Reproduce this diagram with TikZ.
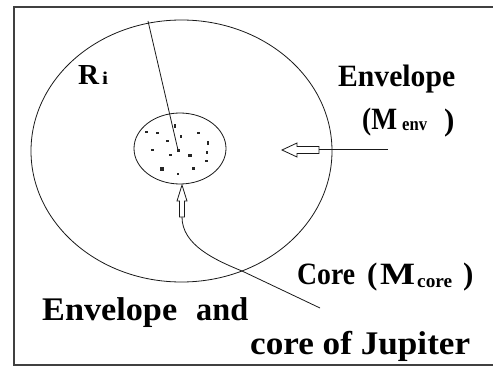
\documentclass[tikz,border=0pt]{standalone}
\usepackage{fontspec}
\setmainfont{Liberation Serif}
\newcommand\fsz[1]{\fontsize{#1}{#1}\selectfont}
\newcommand\fitw[2]{\resizebox{#1}{\height}{#2}}
\begin{document}
\begin{tikzpicture}[x=1pt,y=-1pt,
  ln/.style={line width=0.8pt, draw=black!90},
  frame/.style={line width=2pt, draw=black!75},
  lbl/.style={inner sep=0pt, anchor=base west, font=\bfseries},
  dot/.style={fill=black!85}]
\useasboundingbox (0,0) rectangle (493,369);
\fill[white] (0,0) rectangle (493,369);
\draw[frame] (493,7.5) -- (13.5,7.5) -- (13.5,365) -- (493,365);
% ellipses
\draw[ln] (181.5,151) ellipse [x radius=150.5pt, y radius=131pt];
\draw[ln] (180,148.5) ellipse [x radius=46pt, y radius=35.5pt];
% radius
\coordinate (rtop) at (148,21);
\coordinate (cc) at (178,150);
\draw[ln] (rtop) -- (cc);
% core dots
\foreach \p/\w/\h in {(146,132)/3/2.5,(157,133)/3/2,(175,126)/1.5/4,(181,136)/2.5/3,(198,133)/3/2,(167,141)/3/2,(208,143)/1.5/4,(152,150)/3/2.5,(178,150)/3/3,(170,155)/3/2,(190,155)/4/3,(207,152)/2/3,(206,161)/3/2,(162,169)/4/3.5,(178,174)/2.5/2.5,(193,168)/3/3}
  \fill[dot] \p ++(-\w/2,-\h/2) rectangle ++(\w,\h);
% envelope arrow
\coordinate (ea) at (388,149.5);
\coordinate (eb) at (319,149.5);
\draw[ln] (ea) -- (eb);
\draw[ln] (282,150) -- (297,143) -- (297,146.5) -- (319,146.5) -- (319,153.5) -- (297,153.5) -- (297,157) -- cycle;
% core arrow
\draw[ln] (182,185) -- (187,201) -- (184.5,201) -- (184.5,217) -- (179.5,217) -- (179.5,201) -- (177,201) -- cycle;
\coordinate (cs) at (182,217);
\coordinate (ce) at (320,308);
\draw[ln] (cs) .. controls (182,245) and (215,260) .. (242,271) -- (ce);
% labels
\node[lbl] (ri) at (78,84.5) {\fitw{21pt}{\fsz{29}R}};
\node[lbl] (ris) at (102,84.5) {\fitw{6pt}{\fsz{18}i}};
\node[lbl] (env) at (338,87) {\fitw{117pt}{\fsz{31}Envelope}};
\node[lbl] (menv1) at (362,130) {\fitw{35pt}{\fsz{31}(M}};
\node[lbl] (menv2) at (402,130) {\fitw{25pt}{\fsz{19}env}};
\node[lbl] (menv3) at (444,130) {\fsz{31})};
\node[lbl] (core1) at (297,284) {\fitw{58pt}{\fsz{31}Core}};
\node[lbl] (core2) at (367,284) {\fsz{31}(};
\node[lbl] (core3) at (380,284) {\fitw{35pt}{\fsz{31}M}};
\node[lbl] (core4) at (417,287) {\fitw{35pt}{\fsz{19}core}};
\node[lbl] (core5) at (463,284) {\fsz{31})};
\node[lbl] (ea1) at (42,320) {\fitw{135pt}{\fsz{33}Envelope}};
\node[lbl] (ea2) at (196,320) {\fitw{52pt}{\fsz{33}and}};
\node[lbl] (cj) at (250,354) {\fitw{220pt}{\fsz{33}core of Jupiter}};
\end{tikzpicture}
\end{document}
